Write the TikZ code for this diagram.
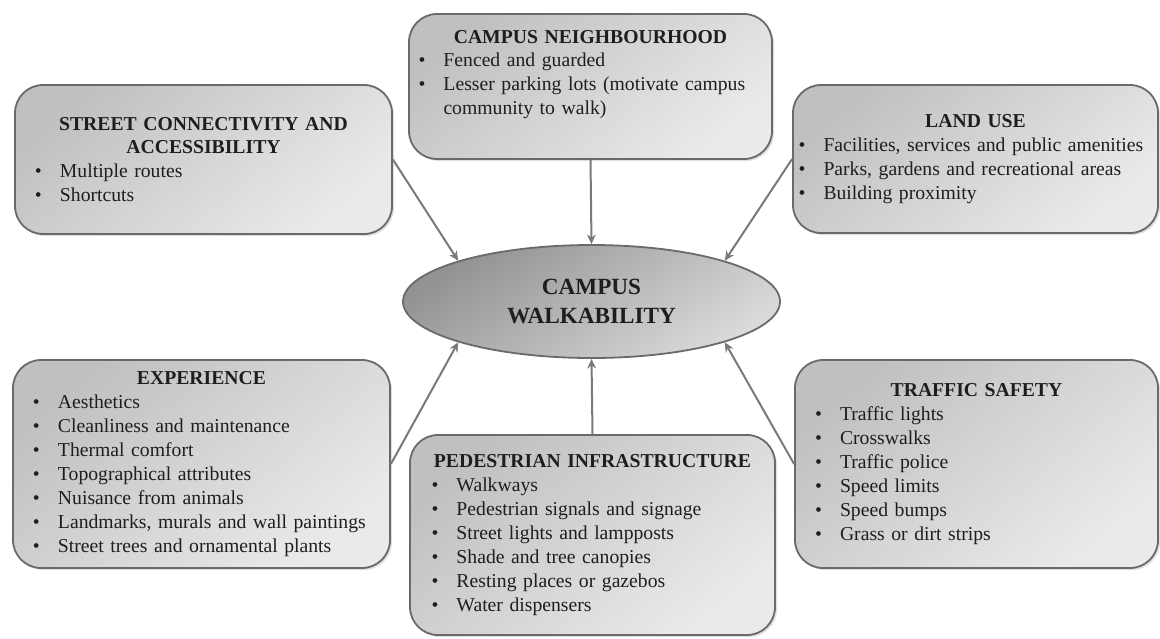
\documentclass[tikz,border=0pt]{standalone}
\usepackage{fontspec}
\setmainfont{Liberation Serif}
\usetikzlibrary{positioning,arrows.meta,shapes.geometric,shadows}
\definecolor{gritinchis}{HTML}{C0C0C0}
\definecolor{gritdeschis}{HTML}{EAEAEA}
\definecolor{elipsainchis}{HTML}{929292}
\definecolor{elipsadeschis}{HTML}{DADADA}
\definecolor{contur}{HTML}{6A6A6A}
\definecolor{scris}{HTML}{1E1E1E}
\hyphenpenalty=10000
\newcommand{\titlu}[1]{{\centering\textbf{#1}\par}}
\newcommand{\punct}[1]{\par\noindent\hangindent=6.25mm\hangafter=1\makebox[6.25mm][l]{\textbullet}#1}
\tikzset{
  caseta/.style  = {draw=contur, line width=0.45mm, rounded corners=7mm,
                    top color=gritinchis, bottom color=gritdeschis, shading angle=40,
                    align=left, inner sep=0pt, text=scris,
                    font=\fontsize{14}{17}\selectfont,
                    drop shadow={shadow xshift=0.5mm, shadow yshift=-0.5mm, opacity=0.25}},
  elipsa/.style  = {ellipse, draw=contur, line width=0.45mm,
                    top color=elipsainchis, bottom color=elipsadeschis, shading angle=35,
                    minimum width=94.25mm, minimum height=28.25mm, inner sep=0pt,
                    align=center, text=scris, font=\fontsize{16.5}{21}\selectfont\bfseries},
  sageata/.style = {-{Stealth[length=2.4mm, width=2.2mm]}, draw=contur!90, line width=0.5mm}
}
\begin{document}
\begin{tikzpicture}[x=0.25mm, y=-0.25mm]
		\useasboundingbox (0,0) rectangle (1160,638);
		\node[elipsa] (cw) at (591.5,301.5) {CAMPUS\\ WALKABILITY};

		\node[caseta, minimum width=94.25mm, minimum height=37.25mm, text width=84.25mm] (sc) at (203.5,159.5)
			{\titlu{STREET CONNECTIVITY AND\\ ACCESSIBILITY}\punct{Multiple routes}\punct{Shortcuts}};
		\node[caseta, minimum width=90.75mm, minimum height=36.25mm, text width=86mm] (nb) at (590.5,86.5)
			{\titlu{CAMPUS NEIGHBOURHOOD}\punct{Fenced and guarded}%
			 \punct{Lesser parking lots (motivate campus\newline community to walk)}\par\vspace{6mm}};
		\node[caseta, minimum width=91.25mm, minimum height=37mm, text width=88.5mm] (lu) at (975.5,159)
			{\titlu{LAND USE}\punct{Facilities, services and public amenities}%
			 \punct{Parks, gardens and recreational areas}\punct{Building proximity}};
		\node[caseta, minimum width=94.25mm, minimum height=52mm, text width=84.25mm] (ex) at (201.5,464)
			{\titlu{EXPERIENCE}\punct{Aesthetics}\punct{Cleanliness and maintenance}%
			 \punct{Thermal comfort}\punct{Topographical attributes}\punct{Nuisance from animals}%
			 \punct{Landmarks, murals and wall paintings}\punct{Street trees and ornamental plants}};
		\node[caseta, minimum width=91.25mm, minimum height=50mm, text width=80.5mm] (pi) at (592.5,535)
			{\titlu{PEDESTRIAN INFRASTRUCTURE}\punct{Walkways}\punct{Pedestrian signals and signage}%
			 \punct{Street lights and lampposts}\punct{Shade and tree canopies}%
			 \punct{Resting places or gazebos}\punct{Water dispensers}};
		\node[caseta, minimum width=90.75mm, minimum height=52mm, text width=80.75mm] (ts) at (976.5,464)
			{\titlu{TRAFFIC SAFETY}\punct{Traffic lights}\punct{Crosswalks}\punct{Traffic police}%
			 \punct{Speed limits}\punct{Speed bumps}\punct{Grass or dirt strips}};

		\draw[sageata] (sc.east) -- (cw.163);
		\draw[sageata] (nb.south) -- (cw.north);
		\draw[sageata] (lu.west) -- (cw.17);
		\draw[sageata] (ex.east) -- (cw.197);
		\draw[sageata] (pi.north) -- (cw.south);
		\draw[sageata] (ts.west) -- (cw.-17);
	\end{tikzpicture}
\end{document}
